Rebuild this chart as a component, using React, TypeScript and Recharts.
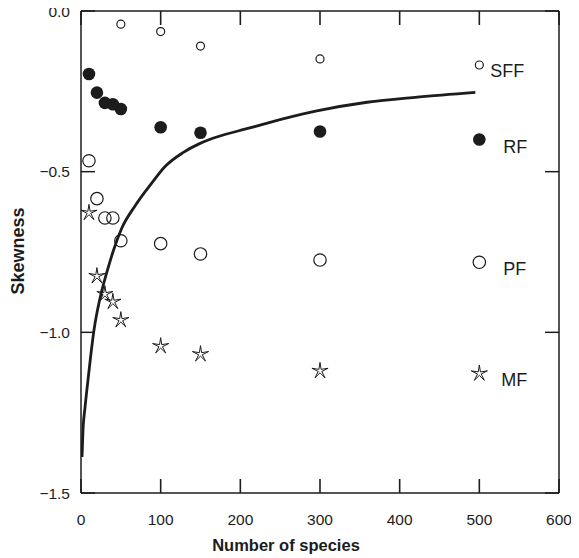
import React from 'react';
import { ComposedChart, XAxis, YAxis, Scatter, Line, ReferenceDot } from 'recharts';

// ---- data ----
const speciesCounts = [10, 20, 30, 40, 50, 100, 150, 300, 500];
const sffSpecies = [50, 100, 150, 300, 500];
const sffSkew = [-0.041, -0.064, -0.109, -0.149, -0.168];
const rfSkew = [-0.196, -0.254, -0.286, -0.29, -0.305, -0.362, -0.379, -0.375, -0.4];
const pfSkew = [-0.466, -0.584, -0.644, -0.644, -0.715, -0.724, -0.756, -0.775, -0.782];
const mfSkew = [-0.628, -0.825, -0.881, -0.905, -0.962, -1.043, -1.068, -1.12, -1.128];
const curveSpecies = [1.3, 2.5, 5, 8.8, 16.3, 23.5, 27, 34.3, 40.6, 51, 68, 89, 105.5, 128.5, 149.5, 170.5, 212, 235, 296, 359, 422, 495];
const curveSkew = [-1.388, -1.304, -1.235, -1.148, -0.993, -0.898, -0.862, -0.797, -0.746, -0.677, -0.606, -0.535, -0.484, -0.44, -0.412, -0.392, -0.364, -0.348, -0.311, -0.284, -0.268, -0.253];
const xTicks = [0, 100, 200, 300, 400, 500, 600];
const yTicks = [0, -0.5, -1.0, -1.5];
const seriesNames = ['SFF', 'RF', 'PF', 'MF'];

const toRows = (xs: number[], ys: number[]) => xs.map((x, i) => ({ x, y: ys[i] }));
const sffData = toRows(sffSpecies, sffSkew);
const rfData = toRows(speciesCounts, rfSkew);
const pfData = toRows(speciesCounts, pfSkew);
const mfData = toRows(speciesCounts, mfSkew);
const curveData = toRows(curveSpecies, curveSkew);

const INK = '#1c1c1c';
const FONT = '"Liberation Sans", Arial, Helvetica, sans-serif';
const TICK_LEN = 14;

const SmallCircle = (p: any) => (
  <circle cx={p.cx} cy={p.cy} r={4} fill="#fff" stroke={INK} strokeWidth={1.2} />
);
const OpenCircle = (p: any) => (
  <circle cx={p.cx} cy={p.cy} r={6.2} fill="none" stroke={INK} strokeWidth={1.2} />
);
const FilledCircle = (p: any) => (
  <circle cx={p.cx} cy={p.cy} r={6.3} fill={INK} stroke="none" />
);
const Star = (p: any) => {
  const { cx, cy } = p;
  const pts: string[] = [];
  for (let i = 0; i < 10; i++) {
    const r = i % 2 === 0 ? 8.5 : 1.9;
    const a = -Math.PI / 2 + (i * Math.PI) / 5;
    pts.push(`${cx + r * Math.cos(a)},${cy + r * Math.sin(a)}`);
  }
  return <polygon points={pts.join(' ')} fill="none" stroke={INK} strokeWidth={1} strokeLinejoin="miter" />;
};

const yFmt = (v: number) => (v === 0 ? '0.0' : '\u2212' + Math.abs(v).toFixed(1));

// plot frame edges (page px): used only for tick-line endpoints
const PLOT_TOP = 11;
const PLOT_BOTTOM = 493;

const BottomTick = (p: any) => (
  <g>
    <path d={`M${p.x},${PLOT_BOTTOM}V${PLOT_BOTTOM - TICK_LEN}`} stroke={INK} strokeWidth={1.6} fill="none" />
    <text x={p.x} y={PLOT_BOTTOM + 31.5} textAnchor="middle" fontSize={15.5} fill={INK} fontFamily={FONT}>
      {p.payload.value}
    </text>
  </g>
);
const TopTick = (p: any) => (
  <path d={`M${p.x},${PLOT_TOP}V${PLOT_TOP + TICK_LEN}`} stroke={INK} strokeWidth={1.6} fill="none" />
);
const LeftTick = (p: any) => (
  <g>
    <line x1={p.x} y1={p.y} x2={p.x + TICK_LEN} y2={p.y} stroke={INK} strokeWidth={1.5} />
    <text x={p.x - 11} y={p.y + 5.5} textAnchor="end" fontSize={15.5} fill={INK} fontFamily={FONT}>
      {yFmt(p.payload.value)}
    </text>
  </g>
);
const RightTick = (p: any) => (
  <line x1={p.x} y1={p.y} x2={p.x - TICK_LEN} y2={p.y} stroke={INK} strokeWidth={1.5} />
);

const seriesLabelAnchors = [
  { x: sffSpecies[4], y: sffSkew[4], dx: 11, dy: 6 },
  { x: speciesCounts[8], y: rfSkew[8], dx: 24, dy: 7 },
  { x: speciesCounts[8], y: pfSkew[8], dx: 24, dy: 6 },
  { x: speciesCounts[8], y: mfSkew[8], dx: 22, dy: 6 },
];

export default function App() {
  return (
    <div style={{ margin: '-8px 0 0 -8px', width: 579, height: 558 }}>
      <ComposedChart
        width={579}
        height={558}
        margin={{ top: 10, right: 19, left: 21, bottom: 15 }}
        style={{ fontFamily: FONT }}
      >
        <XAxis
          xAxisId="b"
          dataKey="x"
          type="number"
          domain={[0, 600]}
          ticks={xTicks}
          interval={0}
          allowDataOverflow
          height={50}
          tickSize={0}
          tickMargin={0}
          tickLine={false}
          tick={(p: any) => <BottomTick {...p} />}
          stroke={INK}
          strokeWidth={1.5}
          label={{
            content: () => (
              <text x={286} y={551} textAnchor="middle" fontSize={16.5} fontWeight="bold" fill={INK} fontFamily={FONT}>
                Number of species
              </text>
            ),
          }}
        />
        <XAxis
          xAxisId="t"
          orientation="top"
          dataKey="x"
          type="number"
          domain={[0, 600]}
          ticks={xTicks}
          interval={0}
          allowDataOverflow
          height={1}
          tickSize={0}
          tickMargin={0}
          tickLine={false}
          tick={(p: any) => <TopTick {...p} />}
          stroke={INK}
          strokeWidth={1.5}
        />
        <YAxis
          yAxisId="l"
          dataKey="y"
          type="number"
          domain={[-1.5, 0]}
          ticks={yTicks}
          interval={0}
          allowDataOverflow
          width={60}
          tickSize={0}
          tickMargin={0}
          tickLine={false}
          tick={(p: any) => <LeftTick {...p} />}
          stroke={INK}
          strokeWidth={1.5}
          label={{
            content: () => (
              <text
                x={23.5}
                y={251}
                textAnchor="middle"
                fontSize={18}
                fontWeight="bold"
                fill={INK}
                fontFamily={FONT}
                transform="rotate(-90, 23.5, 251)"
              >
                Skewness
              </text>
            ),
          }}
        />
        <YAxis
          yAxisId="r"
          orientation="right"
          dataKey="y"
          type="number"
          domain={[-1.5, 0]}
          ticks={yTicks}
          interval={0}
          allowDataOverflow
          width={1}
          tickSize={0}
          tickMargin={0}
          tickLine={false}
          tick={(p: any) => <RightTick {...p} />}
          stroke={INK}
          strokeWidth={1.5}
        />
        <Line
          xAxisId="b"
          yAxisId="l"
          data={curveData}
          dataKey="y"
          type="monotone"
          stroke={INK}
          strokeWidth={2.8}
          dot={false}
          activeDot={false}
          isAnimationActive={false}
        />
        <Scatter xAxisId="b" yAxisId="l" data={sffData} dataKey="y" shape={SmallCircle} isAnimationActive={false} />
        <Scatter xAxisId="b" yAxisId="l" data={rfData} dataKey="y" shape={FilledCircle} isAnimationActive={false} />
        <Scatter xAxisId="b" yAxisId="l" data={pfData} dataKey="y" shape={OpenCircle} isAnimationActive={false} />
        <Scatter xAxisId="b" yAxisId="l" data={mfData} dataKey="y" shape={Star} isAnimationActive={false} />
        {seriesLabelAnchors.map((a, i) => (
          <ReferenceDot
            key={seriesNames[i]}
            xAxisId="b"
            yAxisId="l"
            x={a.x}
            y={a.y}
            r={1}
            fill="none"
            stroke="none"
            label={{
              content: (props: any) => {
                const vb = props.viewBox || {};
                const cx = (vb.x || 0) + (vb.width || 0) / 2;
                const cy = (vb.y || 0) + (vb.height || 0) / 2;
                return (
                  <text x={cx + a.dx} y={cy + a.dy + 6.5} fontSize={18} fill={INK} fontFamily={FONT}>
                    {seriesNames[i]}
                  </text>
                );
              },
            }}
          />
        ))}
      </ComposedChart>
    </div>
  );
}
